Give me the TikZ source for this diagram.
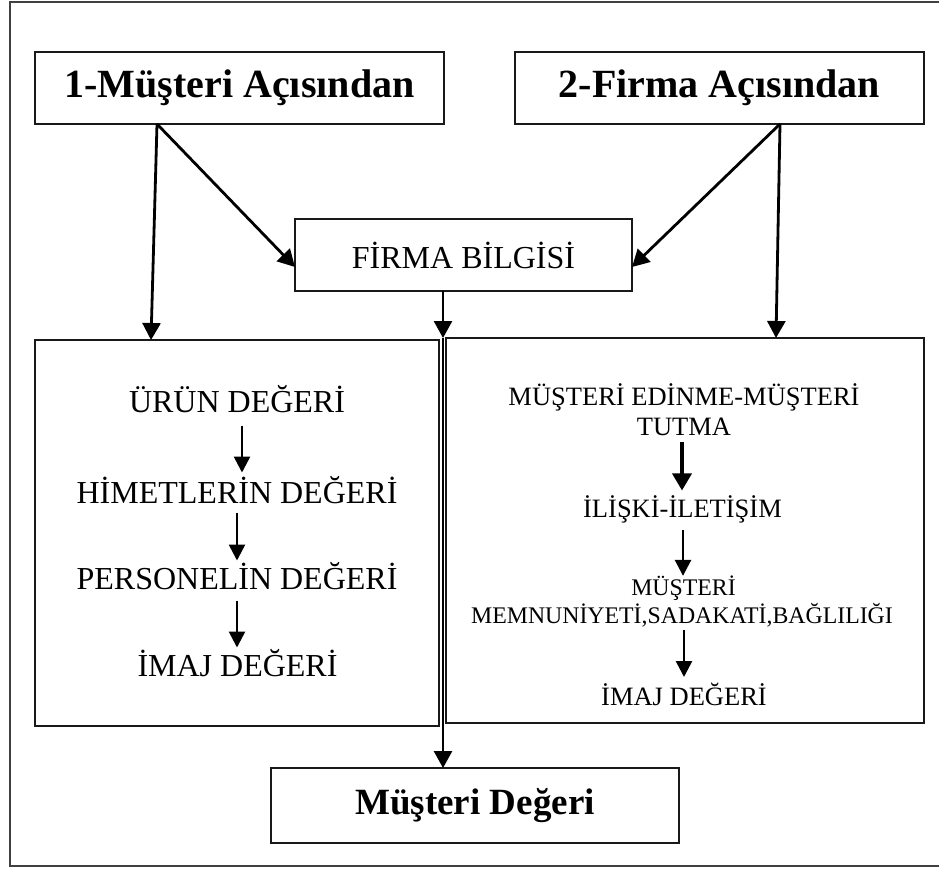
\documentclass[tikz,border=0pt]{standalone}
\usepackage{fontspec}
\setmainfont{Liberation Serif}
\usetikzlibrary{arrows.meta}
\begin{document}
\begin{tikzpicture}[x=1pt,y=-1pt,
  box/.style={draw=black!90,line width=2pt,rectangle,inner sep=0pt},
  bigtxt/.style={font=\fontsize{40}{48}\selectfont\bfseries},
  arr/.style={line width=2.8pt,-{Triangle[length=17pt,width=18pt]}},
  sarr/.style={line width=2.6pt,-{Triangle[length=16pt,width=16pt]}},
  tarr/.style={line width=3.6pt,-{Triangle[length=17pt,width=19pt]}},
  lt/.style={font=\fontsize{32}{38}\selectfont,anchor=base,inner sep=0pt},
  rt/.style={font=\fontsize{26.5}{30}\selectfont,anchor=base,inner sep=0pt},
  rs/.style={font=\fontsize{23.8}{28}\selectfont,anchor=base,inner sep=0pt},
]
\useasboundingbox (0,0) rectangle (939,868);
\draw[line width=2pt,draw=black!75] (945,1.5) -- (10,1.5) -- (10,866) -- (945,866);

\node[box,minimum width=409pt,minimum height=72pt,bigtxt] (b1) at (239.5,88) {1-Müşteri Açısından};
\node[box,minimum width=409pt,minimum height=72pt,bigtxt] (b2) at (719.5,88) {2-Firma Açısından};
\node[box,minimum width=337pt,minimum height=72pt,font=\fontsize{32}{38}\selectfont] (fb) at (463.5,255) {FİRMA BİLGİSİ};
\node[box,minimum width=404pt,minimum height=386pt] (lb) at (237,533) {};
\node[box,minimum width=478pt,minimum height=385pt] (rb) at (685,530.5) {};
\node[box,minimum width=408pt,minimum height=75pt,font=\fontsize{37}{44}\selectfont\bfseries] (md) at (475,805.5) {Müşteri Değeri};

% left box texts
\node[lt] (l1) at (237,412) {ÜRÜN DEĞERİ};
\node[lt] (l2) at (237,503) {HİMETLERİN DEĞERİ};
\node[lt] (l3) at (237,589) {PERSONELİN DEĞERİ};
\node[lt] (l4) at (237.5,676) {İMAJ DEĞERİ};

% right box texts
\node[rt] (r1) at (684,405) {MÜŞTERİ EDİNME-MÜŞTERİ};
\node[rt] (r2) at (684,435) {TUTMA};
\node[rt] (r3) at (682.5,517) {İLİŞKİ-İLETİŞİM};
\node[rs] (r4) at (683.5,595) {MÜŞTERİ};
\node[rs] (r5) at (682,623) {MEMNUNİYETİ,SADAKATİ,BAĞLILIĞI};
\node[rt] (r6) at (684,705) {İMAJ DEĞERİ};

% coordinates for connector ends
\coordinate (b1s) at (157,124);
\coordinate (b2s) at (780,124);
\coordinate (fbw) at (295,267);
\coordinate (fbe) at (632,267);
\coordinate (lbt) at (151,340);
\coordinate (rbt) at (776,338);
\coordinate (fbs) at (443,291);
\coordinate (mid) at (443,338);
\coordinate (mdn) at (443,768);

\draw[arr] (b1s) -- (lbt);
\draw[arr] (b1s) -- (fbw);
\draw[arr] (b2s) -- (fbe);
\draw[arr] (b2s) -- (rbt);
\draw[arr] (fbs) -- (mid);
\draw[arr] (mid) -- (mdn);

% inner arrows left
\draw[sarr] ([xshift=5pt]l1.south) ++(0,13) -- ++(0,47);
\draw[sarr] (l2.south) ++(0,9) -- ++(0,48);
\draw[sarr] (l3.south) ++(0,11) -- ++(0,47);

% inner arrows right
\draw[tarr] (r2.south) ++(-2,7) -- ++(0,48);
\draw[sarr] (r3.south) ++(0.5,7) -- ++(0,46);
\draw[sarr] ([xshift=2pt]r5.base) ++(0,7) -- ++(0,47);
\end{tikzpicture}
\end{document}
